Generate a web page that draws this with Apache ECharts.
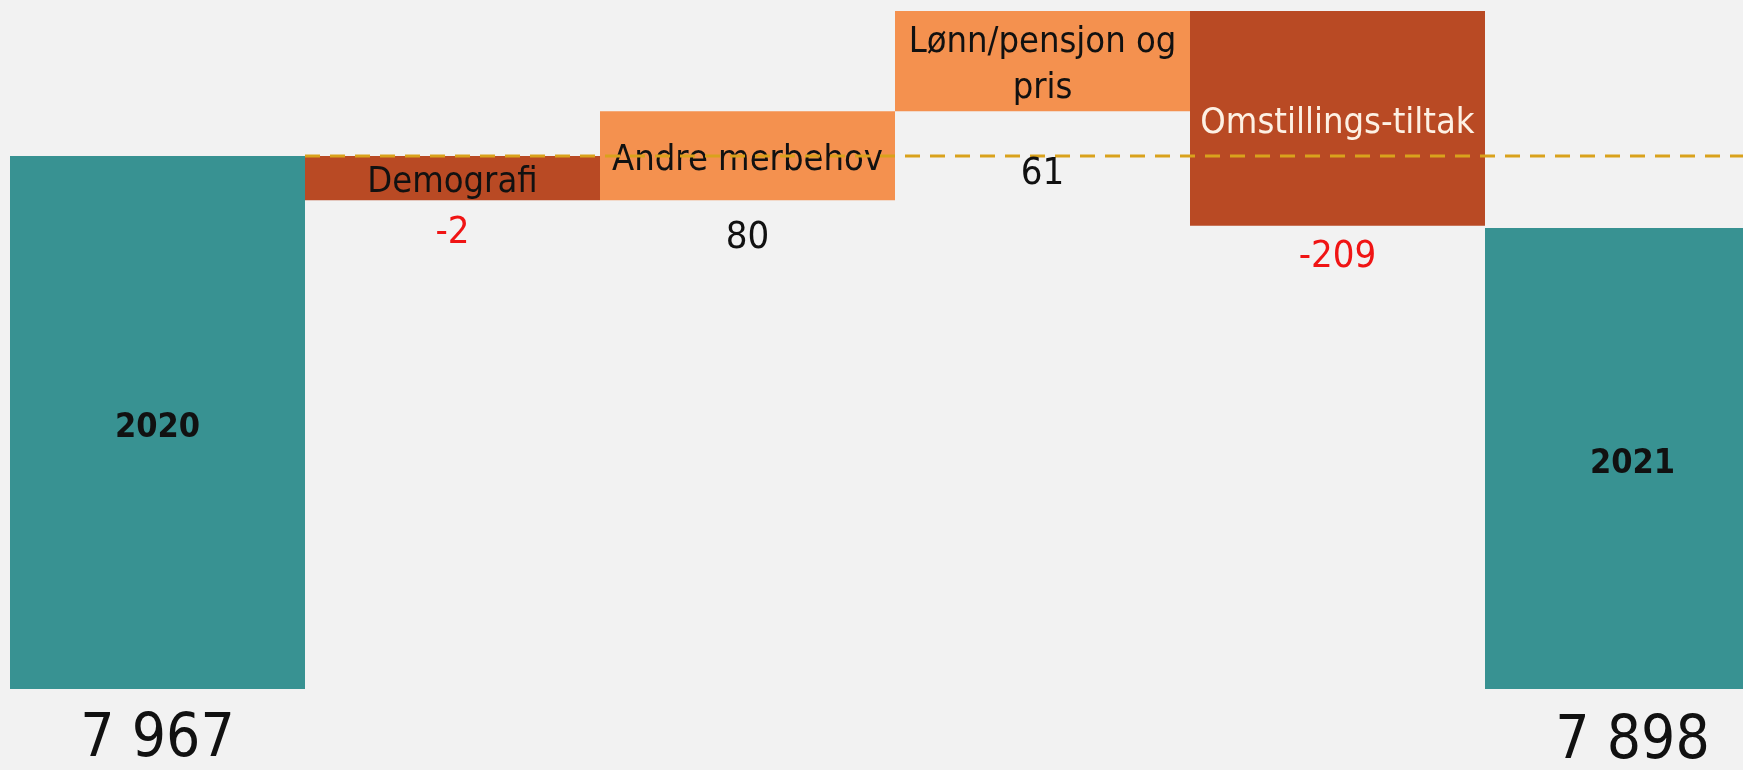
<!DOCTYPE html>
<html>
<head>
<meta charset="utf-8">
<script src="https://cdn.jsdelivr.net/npm/echarts@6/dist/echarts.min.js"></script>
<style>
  html, body { margin: 0; padding: 0; background: #F2F2F2; }
  #chart { width: 1743px; height: 770px; }
</style>
</head>
<body>
<div id="chart"></div>
<script>
// ---- data ----
const categories = ['2020', 'Demografi', 'Andre merbehov', 'Lønn/pensjon og\npris', 'Omstillings-tiltak', '2021'];
const amounts = [7967, -2, 80, 61, -209, 7898];           // printed values
const isTotal = [true, false, false, false, false, true];
// level reached after each column as drawn in the (not to scale) reference, 2020 bar = 100
const drawnLevels = [100, 91.7, 108.4, 127.2, 86.9, 86.5];
const referenceLevel = drawnLevels[0];                    // dashed line level

// ---- derived ----
const lows = [], highs = [];
categories.forEach((c, i) => {
  if (isTotal[i]) { lows.push(0); highs.push(drawnLevels[i]); }
  else {
    const a = drawnLevels[i - 1], b = drawnLevels[i];
    lows.push(Math.min(a, b)); highs.push(Math.max(a, b));
  }
});

// ---- styles ----
const FONT = '"Liberation Sans Narrow", "Arial Narrow", "DejaVu Sans Condensed", "Liberation Sans", Arial, sans-serif';
const TEAL = '#389292', DARK = '#B94A24', LIGHT = '#F4914F';
function fmt(v) { return String(v).replace(/\B(?=(\d{3})+(?!\d))/g, ' '); }
function barColor(i) { return isTotal[i] ? TEAL : (amounts[i] < 0 ? DARK : LIGHT); }
const valueLabelDistance = [21, 14, 19, 44, 12, 23];

const chart = echarts.init(document.getElementById('chart'), null, { renderer: 'canvas' });
chart.setOption({
  animation: false,
  backgroundColor: '#F2F2F2',
  grid: { left: 10, top: 11, width: 1770, height: 678, containLabel: false, outerBoundsMode: 'none' },
  xAxis: [
    { type: 'category', data: categories, show: false, boundaryGap: true },
    { type: 'value', min: 0, max: categories.length, show: false }
  ],
  yAxis: { type: 'value', min: 0, max: Math.max(...highs), show: false },
  series: [
    {
      type: 'bar', stack: 'w', barWidth: '100%', barCategoryGap: 0,
      itemStyle: { color: 'transparent' }, silent: true,
      data: lows.map((v, i) => isTotal[i] ? 0 : v), z: 1
    },
    {
      type: 'bar', stack: 'w', barWidth: '100%', barCategoryGap: 0, z: 2,
      data: highs.map((h, i) => ({
        value: h - (isTotal[i] ? 0 : lows[i]),
        itemStyle: { color: barColor(i) },
        label: {
          show: true, position: 'inside',
          offset: [0, isTotal[i] ? 6 : 5],
          formatter: categories[i],
          fontFamily: FONT,
          fontSize: isTotal[i] ? 34 : 36,
          fontWeight: isTotal[i] ? 'bold' : 'normal',
          lineHeight: isTotal[i] ? 36 : 46,
          color: (amounts[i] < -100) ? '#FDF1E4' : '#111111'
        }
      }))
    },
    {
      type: 'line', xAxisIndex: 1, yAxisIndex: 0, symbol: 'none', z: 4, silent: true,
      data: [[1, referenceLevel], [categories.length, referenceLevel]],
      lineStyle: { color: '#D9A21C', width: 3, type: [15, 10] }
    },
    {
      type: 'scatter', symbolSize: 0, z: 5, silent: true,
      itemStyle: { opacity: 1 },
      data: categories.map((c, i) => ({
        value: [i, lows[i]],
        label: {
          show: true, position: 'bottom', opacity: 1,
          distance: valueLabelDistance[i],
          formatter: fmt(amounts[i]),
          fontFamily: FONT,
          fontSize: isTotal[i] ? 60 : 38,
          lineHeight: isTotal[i] ? 60 : 38,
          color: amounts[i] < 0 ? '#F01414' : '#111111'
        }
      }))
    }
  ]
});
</script>
</body>
</html>
